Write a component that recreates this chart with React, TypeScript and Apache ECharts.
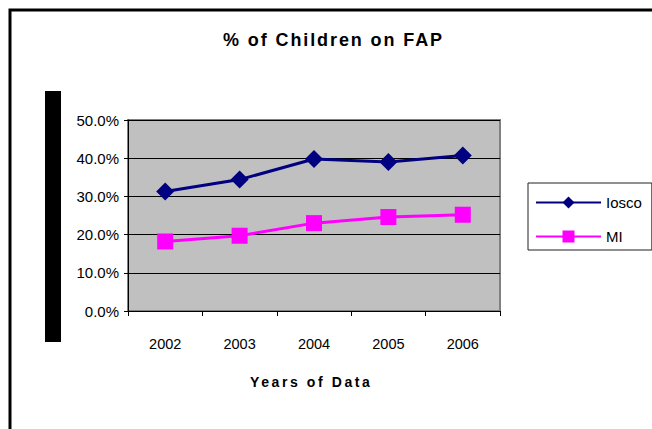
import React, { useEffect, useRef } from "react";
import * as echarts from "echarts";

const categories = ["2002", "2003", "2004", "2005", "2006"];
const ioscoValues = [31.3, 34.4, 39.8, 39.0, 40.7];
const miValues = [18.2, 19.7, 23.0, 24.6, 25.2];
const seriesNames = ["Iosco", "MI"];
const titleText = "% of Children on FAP";
const xAxisTitle = "Years of Data";

const FONT = "'Liberation Sans', Arial, sans-serif";

export default function App() {
  const ref = useRef<HTMLDivElement>(null);

  useEffect(() => {
    if (!ref.current) return;
    const chart = echarts.init(ref.current, null, { renderer: "svg" });
    chart.setOption({
      animation: false,
      backgroundColor: "#ffffff",
      textStyle: { fontFamily: FONT },
      grid: {
        left: 128,
        right: 152,
        top: 120,
        bottom: 118,
        show: true,
        backgroundColor: "#C0C0C0",
        borderColor: "#808080",
        borderWidth: 2,
      },
      legend: {
        orient: "vertical",
        left: 528,
        top: 183,
        padding: [12, 10, 6, 7],
        itemWidth: 65,
        itemHeight: 15,
        itemGap: 19,
        backgroundColor: "#ffffff",
        borderColor: "#202020",
        borderWidth: 1,
        borderRadius: 0,
        textStyle: { fontFamily: FONT, fontSize: 15, color: "#000", padding: [0, 0, 0, 0] },
        data: seriesNames,
      },
      xAxis: {
        type: "category",
        data: categories,
        boundaryGap: true,
        axisLine: { lineStyle: { color: "#000", width: 1 } },
        axisTick: { show: true, length: 5, lineStyle: { color: "#000" } },
        axisLabel: { color: "#000", fontSize: 14.5, fontFamily: FONT, margin: 25 },
        splitLine: { show: false },
      },
      yAxis: {
        type: "value",
        min: 0,
        max: 50,
        interval: 10,
        axisLine: { show: true, lineStyle: { color: "#000", width: 1 } },
        axisTick: { show: true, length: 4, lineStyle: { color: "#000" } },
        axisLabel: {
          color: "#000",
          fontSize: 15,
          fontFamily: FONT,
          margin: 9,
          formatter: (v: number) => v.toFixed(1) + "%",
        },
        splitLine: { show: true, lineStyle: { color: "#000", width: 1 } },
      },
      series: [
        {
          name: seriesNames[0],
          type: "line",
          data: ioscoValues,
          symbol: "diamond",
          symbolSize: 18,
          itemStyle: { color: "#000080" },
          lineStyle: { color: "#000080", width: 3 },
          z: 3,
        },
        {
          name: seriesNames[1],
          type: "line",
          data: miValues,
          symbol: "rect",
          symbolSize: 16,
          itemStyle: { color: "#FF00FF" },
          lineStyle: { color: "#FF00FF", width: 3 },
          z: 3,
        },
      ],
      graphic: [
        {
          type: "rect",
          shape: { x: 10, y: 10, width: 700, height: 500 },
          style: { fill: "none", stroke: "#000", lineWidth: 3 },
          z: -10,
          silent: true,
        },
        {
          type: "rect",
          shape: { x: 45, y: 91, width: 16, height: 251 },
          style: { fill: "#000" },
          silent: true,
        },
        {
          type: "text",
          x: 223,
          y: 40,
          style: {
            text: titleText,
            font: "bold 18px " + FONT,
            fill: "#000",
            textAlign: "left",
            textVerticalAlign: "middle",
          },
        },
        {
          type: "text",
          x: 250,
          y: 382,
          style: {
            text: xAxisTitle,
            font: "bold 14px " + FONT,
            fill: "#000",
            textAlign: "left",
            textVerticalAlign: "middle",
          },
        },
      ],
    });
    return () => chart.dispose();
  }, []);

  return (
    <>
      <style>{`svg text[style*="bold 18px"]{letter-spacing:1.9px} svg text[style*="bold 14px"]{letter-spacing:2.6px}`}</style>
      <div
        ref={ref}
        style={{ position: "absolute", left: 0, top: 0, width: 652, height: 429 }}
      />
    </>
  );
}
